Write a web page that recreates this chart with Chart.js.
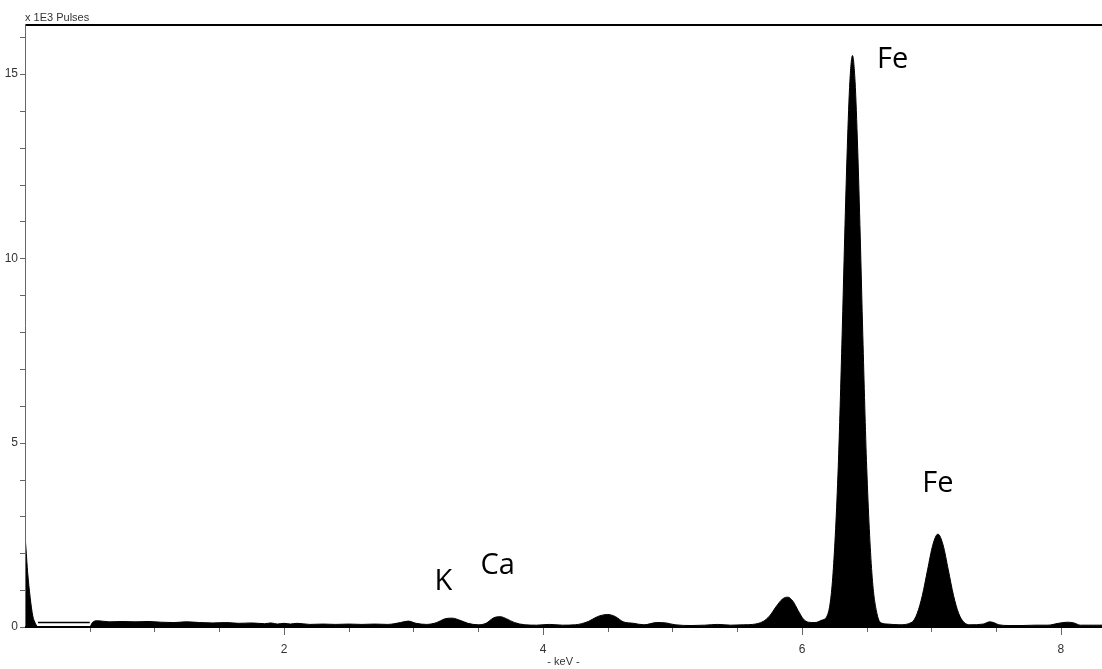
<!DOCTYPE html>
<html>
<head>
<meta charset="utf-8">
<script src="https://cdn.jsdelivr.net/npm/chart.js@4.4.1/dist/chart.umd.min.js"></script>
<style>
  body { margin: 0; background: #fff; }
  canvas { display: block; }
</style>
</head>
<body>
<canvas id="spectrum" width="1102" height="669"></canvas>
<script>
// Spectre EDX : energie (keV) et intensite (x 1E3 Pulses)
const energyKeV = [
  0.00, 0.01, 0.02, 0.04, 0.06, 0.08, 0.10, 0.50, 0.52, 0.56,
  0.65, 0.75, 0.85, 0.95, 1.05, 1.15, 1.25, 1.35, 1.45, 1.55,
  1.65, 1.75, 1.85, 1.90, 1.95, 2.00, 2.05, 2.10, 2.20, 2.30,
  2.40, 2.50, 2.60, 2.70, 2.80, 2.90, 2.96, 3.02, 3.10, 3.18,
  3.24, 3.30, 3.36, 3.42, 3.50, 3.56, 3.62, 3.67, 3.72, 3.78,
  3.86, 3.95, 4.05, 4.15, 4.25, 4.35, 4.42, 4.50, 4.56, 4.62,
  4.70, 4.78, 4.88, 4.95, 5.02, 5.15, 5.25, 5.35, 5.45, 5.55,
  5.62, 5.70, 5.75, 5.80, 5.85, 5.89, 5.93, 5.97, 6.01, 6.05,
  6.10, 6.15, 6.20, 6.24, 6.28, 6.31, 6.33, 6.35, 6.37, 6.39,
  6.41, 6.43, 6.45, 6.47, 6.50, 6.54, 6.58, 6.62, 6.66, 6.75,
  6.85, 6.89, 6.93, 6.97, 7.01, 7.05, 7.09, 7.13, 7.17, 7.21,
  7.25, 7.30, 7.40, 7.45, 7.48, 7.52, 7.60, 7.70, 7.80, 7.90,
  7.98, 8.05, 8.10, 8.15, 8.25, 8.32
];
const pulses = [
  2.50, 2.00, 1.50, 0.80, 0.30, 0.10, 0.00, 0.00, 0.12, 0.17,
  0.14, 0.15, 0.14, 0.15, 0.13, 0.12, 0.14, 0.12, 0.11, 0.12,
  0.10, 0.11, 0.09, 0.11, 0.08, 0.10, 0.08, 0.10, 0.07, 0.08,
  0.07, 0.08, 0.07, 0.08, 0.07, 0.12, 0.16, 0.10, 0.07, 0.12,
  0.22, 0.24, 0.18, 0.10, 0.06, 0.10, 0.25, 0.28, 0.22, 0.12,
  0.06, 0.05, 0.07, 0.05, 0.06, 0.15, 0.28, 0.34, 0.28, 0.14,
  0.10, 0.06, 0.12, 0.11, 0.06, 0.04, 0.05, 0.07, 0.05, 0.06,
  0.07, 0.15, 0.30, 0.55, 0.76, 0.81, 0.70, 0.45, 0.22, 0.13,
  0.12, 0.18, 0.35, 1.46, 4.33, 7.90, 10.6, 13.0, 14.8, 15.5,
  14.8, 13.0, 10.6, 7.90, 4.33, 1.46, 0.35, 0.10, 0.08, 0.06,
  0.13, 0.37, 0.86, 1.55, 2.22, 2.52, 2.22, 1.55, 0.86, 0.37,
  0.13, 0.06, 0.08, 0.14, 0.12, 0.06, 0.04, 0.04, 0.05, 0.05,
  0.10, 0.13, 0.11, 0.05, 0.05, 0.05
];
// petite ligne de niveau au debut du spectre
const stripKeV = [0.10, 0.50];
const stripPulses = [0.12, 0.12];

const xTicksLabelled = [2, 4, 6, 8];
const yTicksLabelled = [0, 5, 10, 15];

// etiquettes des elements (texte, energie, hauteur de la ligne de base du texte)
const peakNames = ['K', 'Ca', 'Fe', 'Fe'];
const peakLabelKeV = [3.23, 3.65, 6.70, 7.05];
const peakLabelPulses = [1.00, 1.44, 15.16, 3.66];

const axisFont = "'Liberation Sans Narrow', 'Liberation Sans', Arial, sans-serif";

const decorPlugin = {
  id: 'decor',
  afterDraw(chart) {
    const ctx = chart.ctx;
    const area = chart.chartArea;
    const xs = chart.scales.x;
    const ys = chart.scales.y;
    ctx.save();

    // cadre du haut
    ctx.fillStyle = '#000';
    ctx.fillRect(area.left, area.top, chart.width - area.left, 2);

    // axe vertical
    ctx.strokeStyle = '#666';
    ctx.lineWidth = 1;
    ctx.beginPath();
    ctx.moveTo(area.left + 0.5, area.top);
    ctx.lineTo(area.left + 0.5, area.bottom);
    ctx.stroke();

    // graduations y
    for (let v = 0; v <= 16; v++) {
      const py = Math.round(ys.getPixelForValue(v)) + 0.5;
      ctx.beginPath();
      ctx.moveTo(area.left - 5, py);
      ctx.lineTo(area.left, py);
      ctx.stroke();
    }

    // graduations x
    for (let k = 1; k <= 16; k++) {
      const v = k * 0.5;
      const px = Math.round(xs.getPixelForValue(v)) + 0.5;
      const len = xTicksLabelled.includes(v) ? 8 : 5;
      ctx.beginPath();
      ctx.moveTo(px, area.bottom);
      ctx.lineTo(px, area.bottom + len);
      ctx.stroke();
    }

    // axe horizontal
    ctx.fillStyle = '#000';
    ctx.fillRect(area.left, area.bottom - 1, chart.width - area.left, 2);

    // titres des axes
    ctx.fillStyle = '#333';
    ctx.font = '11px ' + axisFont;
    ctx.textAlign = 'left';
    ctx.textBaseline = 'alphabetic';
    ctx.fillText('x 1E3 Pulses', area.left, 21);
    ctx.textAlign = 'center';
    ctx.fillText('- keV -', (area.left + area.right) / 2, 665);

    // noms des elements
    ctx.fillStyle = '#000';
    ctx.font = "29px 'Open Sans', 'Noto Sans', sans-serif";
    ctx.textAlign = 'center';
    ctx.textBaseline = 'alphabetic';
    peakNames.forEach((name, i) => {
      ctx.fillText(name, xs.getPixelForValue(peakLabelKeV[i]), ys.getPixelForValue(peakLabelPulses[i]));
    });

    ctx.restore();
  }
};

const ctx = document.getElementById('spectrum').getContext('2d');
const spectrumChart = new Chart(ctx, {
  type: 'line',
  data: {
    datasets: [{
      data: energyKeV.map((e, i) => ({ x: e, y: pulses[i] })),
      borderColor: '#000',
      backgroundColor: '#000',
      borderWidth: 1,
      fill: 'origin',
      pointRadius: 0,
      cubicInterpolationMode: 'monotone'
    }, {
      data: stripKeV.map((e, i) => ({ x: e, y: stripPulses[i] })),
      borderColor: '#000',
      borderWidth: 1.5,
      fill: false,
      pointRadius: 0
    }]
  },
  options: {
    responsive: false,
    animation: false,
    layout: { padding: { top: 24, right: 0, left: 0, bottom: 0 } },
    plugins: { legend: { display: false }, tooltip: { enabled: false } },
    scales: {
      x: {
        type: 'linear',
        min: 0,
        max: 8.317,
        afterFit(scale) { scale.height = 42; },
        afterBuildTicks(scale) {
          scale.ticks = xTicksLabelled.map(v => ({ value: v }));
        },
        grid: { display: false, drawTicks: true, tickLength: 8 },
        border: { display: false },
        ticks: {
          padding: 7,
          maxRotation: 0,
          autoSkip: false,
          color: '#333',
          font: { family: axisFont, size: 12 }
        }
      },
      y: {
        min: 0,
        max: 16.355,
        afterFit(scale) { scale.width = 25; },
        afterBuildTicks(scale) {
          scale.ticks = yTicksLabelled.map(v => ({ value: v }));
        },
        grid: { display: false, drawTicks: true, tickLength: 5 },
        border: { display: false },
        ticks: {
          padding: 2,
          autoSkip: false,
          color: '#333',
          font: { family: axisFont, size: 12 }
        }
      }
    }
  },
  plugins: [decorPlugin]
});
</script>
</body>
</html>
